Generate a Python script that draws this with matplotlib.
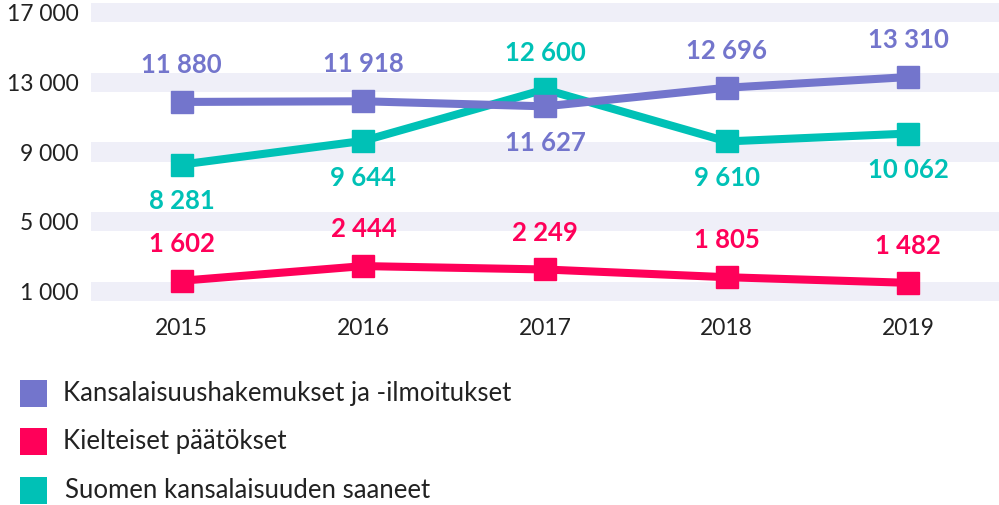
import matplotlib
matplotlib.use("Agg")
import matplotlib.pyplot as plt
from matplotlib.patches import Rectangle

# ---- data ----
years = ["2015", "2016", "2017", "2018", "2019"]
applications = [11880, 11918, 11627, 12696, 13310]
negative = [1602, 2444, 2249, 1805, 1482]
granted = [8281, 9644, 12600, 9610, 10062]
series_names = ["Kansalaisuushakemukset ja -ilmoitukset",
                "Kielteiset päätökset",
                "Suomen kansalaisuuden saaneet"]
yticks = [1000, 5000, 9000, 13000, 17000]

C_PURPLE = "#7375CC"
C_PINK = "#FF0059"
C_TEAL = "#00C1B6"
C_BAND = "#EFEFF8"
C_TEXT = "#222222"

plt.rcParams['font.family'] = ['Lato', 'DejaVu Sans']

W, H = 999, 505
fig = plt.figure(figsize=(W / 100, H / 100), dpi=100)
bottom_px = 308.6
ax = fig.add_axes([91 / W, 1 - bottom_px / H, 908 / W, bottom_px / H])
ax.set_xlim(-0.5, 4.5)
ax.set_ylim(0, 17740)

for t in yticks:
    ax.axhspan(t - 550, t + 550, color=C_BAND, lw=0, zorder=0)

def fmt(v):
    return f"{v:,}".replace(",", " ")

x = list(range(len(years)))
lw = 5.8
ms = 16
ax.plot(x, granted, color=C_TEAL, lw=lw, marker='s', ms=ms, zorder=3,
        solid_joinstyle='miter')
ax.plot(x, applications, color=C_PURPLE, lw=lw, marker='s', ms=ms, zorder=4,
        solid_joinstyle='miter')
ax.plot(x, negative, color=C_PINK, lw=lw, marker='s', ms=ms, zorder=5,
        solid_joinstyle='miter')

off = 26.5
lab_fs = 18.5
for i in x:
    a, g, n = applications[i], granted[i], negative[i]
    a_up = a >= g
    ax.annotate(fmt(a), (i, a), xytext=(0, off if a_up else -off),
                textcoords='offset points', ha='center', va='center',
                fontsize=lab_fs, fontweight='bold', color=C_PURPLE, zorder=6)
    ax.annotate(fmt(g), (i, g), xytext=(0, -off if a_up else off),
                textcoords='offset points', ha='center', va='center',
                fontsize=lab_fs, fontweight='bold', color=C_TEAL, zorder=6)
    ax.annotate(fmt(n), (i, n), xytext=(0, off),
                textcoords='offset points', ha='center', va='center',
                fontsize=lab_fs, fontweight='bold', color=C_PINK, zorder=6)

ax.set_xticks(x)
ax.set_xticklabels(years, fontsize=16.5, color=C_TEXT)
ax.set_yticks(yticks)
ax.set_yticklabels([fmt(t) for t in yticks], fontsize=16.5, color=C_TEXT)
ax.tick_params(axis='x', length=0, pad=7)
ax.tick_params(axis='y', length=0, pad=9)
for s in ax.spines.values():
    s.set_visible(False)

# legend
leg_colors = [C_PURPLE, C_PINK, C_TEAL]
leg_y = [393, 441, 490]
leg_tx = [63, 63, 65]
for name, col, yc, tx in zip(series_names, leg_colors, leg_y, leg_tx):
    fig.patches.append(Rectangle((20 / W, 1 - (yc + 13.5) / H), 27 / W, 27 / H,
                                 transform=fig.transFigure, color=col, lw=0))
    fig.text(tx / W, 1 - yc / H, name, fontsize=18.5, color=C_TEXT,
             ha='left', va='center')

fig.savefig("out.png", dpi=100)
